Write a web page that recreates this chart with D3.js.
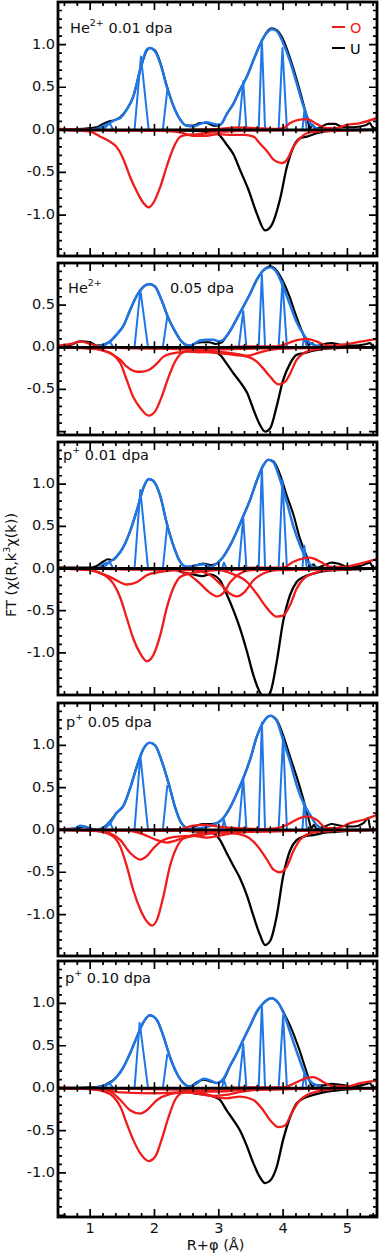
<!DOCTYPE html>
<html>
<head>
<meta charset="utf-8">
<script src="https://cdn.jsdelivr.net/npm/d3@7"></script>
<style>
  body { margin: 0; background: #fff; }
  svg { display: block; }
  text { font-family: "DejaVu Sans", sans-serif; fill: #111; }
</style>
</head>
<body>
<div id="drawing"></div>
<script>
const width = 381;
const height = 1254;
const margin = {left: 58, right: 4};

const xDomain = [0.5, 5.46];
const xLabels = [1, 2, 3, 4, 5];

// ---- panel 1 : He2+ 0.01 dpa ----
const p1Data = [[0.5,0.01],[0.8,0.01],[1.0,0.02],[1.1,0.03],[1.2,0.07],[1.3,0.1],[1.4,0.12],[1.47,0.15],[1.57,0.24],[1.67,0.39],[1.78,0.71],[1.88,0.93],[1.93,0.96],[2.01,0.93],[2.09,0.79],[2.19,0.52],[2.3,0.27],[2.4,0.12],[2.5,0.05],[2.6,0.05],[2.71,0.08],[2.81,0.08],[2.92,0.05],[3.0,0.05],[3.05,0.08],[3.12,0.18],[3.23,0.31],[3.33,0.47],[3.44,0.63],[3.54,0.82],[3.64,1.0],[3.75,1.15],[3.82,1.19],[3.9,1.17],[4.0,1.06],[4.1,0.86],[4.2,0.62],[4.3,0.35],[4.38,0.12],[4.42,0.02],[4.46,0.06],[4.5,0.01],[4.6,0.04],[4.7,0.07],[4.8,0.07],[4.9,0.04],[5.0,0.03],[5.2,0.04],[5.3,0.06],[5.35,0.08],[5.4,0.02],[5.46,0.02]];
const p1Fit = [[0.5,0],[1.0,0],[1.1,0.01],[1.2,0.04],[1.3,0.08],[1.4,0.12],[1.47,0.14],[1.57,0.24],[1.67,0.39],[1.78,0.71],[1.88,0.94],[1.93,0.96],[2.01,0.92],[2.09,0.78],[2.19,0.51],[2.3,0.27],[2.4,0.12],[2.5,0.05],[2.6,0.04],[2.71,0.07],[2.81,0.09],[2.92,0.07],[3.0,0.06],[3.05,0.08],[3.12,0.18],[3.23,0.31],[3.33,0.47],[3.44,0.63],[3.54,0.82],[3.64,1.0],[3.75,1.14],[3.82,1.18],[3.9,1.16],[4.0,1.02],[4.11,0.8],[4.21,0.55],[4.32,0.27],[4.42,0.08],[4.52,0.02],[4.63,0],[5.46,0]];
const p1U = [[0.5,0],[2.5,-0.01],[2.8,-0.02],[2.97,-0.03],[3.02,-0.07],[3.12,-0.17],[3.23,-0.29],[3.33,-0.47],[3.46,-0.7],[3.59,-0.98],[3.72,-1.18],[3.82,-1.12],[3.95,-0.82],[4.06,-0.43],[4.16,-0.2],[4.26,-0.1],[4.37,-0.08],[4.52,-0.04],[4.78,-0.01],[5.46,0]];
const p1O = [
  [[0.5,0],[0.8,-0.01],[1.0,-0.02],[1.16,-0.08],[1.31,-0.14],[1.41,-0.2],[1.52,-0.35],[1.62,-0.55],[1.73,-0.73],[1.83,-0.86],[1.91,-0.91],[1.98,-0.86],[2.09,-0.67],[2.19,-0.43],[2.3,-0.2],[2.4,-0.08],[2.5,-0.06],[2.7,-0.05],[2.9,-0.03],[3.1,-0.02],[3.5,-0.01],[5.46,0]],
  [[0.5,0],[2.0,-0.01],[2.4,-0.03],[2.6,-0.07],[2.8,-0.07],[3.0,-0.05],[3.2,-0.06],[3.4,-0.06],[3.54,-0.08],[3.64,-0.16],[3.75,-0.25],[3.85,-0.35],[3.98,-0.39],[4.06,-0.35],[4.16,-0.2],[4.26,-0.1],[4.37,-0.04],[4.52,-0.02],[5.46,0]]
];
const p1Res = [[0.5,0.01],[1.0,0],[1.5,-0.01],[2.5,0],[3.0,0.01],[3.3,0.03],[3.6,0.02],[3.9,0.01],[4.0,0.02],[4.11,0.08],[4.26,0.12],[4.37,0.125],[4.52,0.07],[4.68,0.02],[4.83,0.02],[5.0,0.06],[5.2,0.08],[5.46,0.14]];
const p1Spikes = [[1.2,1.3,0.08,1.36],[1.69,1.79,0.86,1.91],[2.13,2.2,0.47,null],[3.31,3.38,0.57,3.43],[3.62,3.67,1.06,3.72],[3.93,3.99,0.96,4.06],[4.3,4.33,0.22,4.37]];

// ---- panel 2 : He2+ 0.05 dpa ----
const p2Data = [[0.5,0],[0.7,0.03],[0.85,0.07],[1.0,0.06],[1.1,0.02],[1.2,0.03],[1.31,0.07],[1.41,0.15],[1.52,0.26],[1.62,0.44],[1.73,0.62],[1.83,0.72],[1.92,0.75],[2.01,0.72],[2.11,0.56],[2.22,0.34],[2.32,0.19],[2.42,0.07],[2.55,0.02],[2.65,0.05],[2.75,0.06],[2.85,0.06],[2.95,0.04],[3.05,0.06],[3.1,0.11],[3.18,0.2],[3.28,0.34],[3.38,0.48],[3.49,0.64],[3.59,0.8],[3.69,0.91],[3.8,0.96],[3.9,0.91],[4.0,0.78],[4.1,0.6],[4.2,0.38],[4.3,0.18],[4.4,0.03],[4.45,0.05],[4.5,0.01],[4.6,0.03],[4.75,0.05],[4.9,0.03],[5.1,0.02],[5.3,0.04],[5.35,0.05],[5.4,0.01],[5.46,0.01]];
const p2Fit = [[0.5,0],[1.0,0],[1.16,0.02],[1.31,0.07],[1.41,0.15],[1.52,0.26],[1.62,0.44],[1.73,0.62],[1.83,0.72],[1.92,0.75],[2.01,0.72],[2.11,0.56],[2.22,0.34],[2.32,0.19],[2.42,0.07],[2.55,0.02],[2.71,0.08],[2.81,0.09],[2.92,0.09],[3.0,0.07],[3.07,0.09],[3.18,0.2],[3.28,0.34],[3.38,0.48],[3.49,0.64],[3.59,0.8],[3.69,0.91],[3.8,0.95],[3.9,0.89],[4.0,0.72],[4.11,0.5],[4.21,0.3],[4.32,0.15],[4.42,0.05],[4.58,0.01],[4.7,0],[5.46,0]];
const p2U = [[0.5,0],[2.5,-0.01],[2.8,-0.03],[2.92,-0.05],[3.02,-0.09],[3.12,-0.19],[3.23,-0.31],[3.33,-0.41],[3.44,-0.54],[3.54,-0.74],[3.64,-0.92],[3.72,-1.0],[3.8,-0.96],[3.9,-0.7],[4.0,-0.39],[4.11,-0.19],[4.21,-0.09],[4.32,-0.07],[4.47,-0.04],[4.78,-0.01],[5.46,0]];
const p2O = [
  [[0.5,0],[1.0,-0.01],[1.16,-0.03],[1.36,-0.09],[1.47,-0.19],[1.57,-0.39],[1.67,-0.59],[1.78,-0.72],[1.91,-0.81],[2.01,-0.76],[2.11,-0.59],[2.22,-0.35],[2.32,-0.17],[2.42,-0.07],[2.55,-0.04],[2.8,-0.03],[3.2,-0.02],[5.46,0]],
  [[0.5,0],[1.1,-0.02],[1.31,-0.07],[1.47,-0.15],[1.57,-0.23],[1.73,-0.29],[1.8,-0.29],[1.91,-0.27],[2.04,-0.19],[2.14,-0.11],[2.3,-0.07],[2.5,-0.05],[2.7,-0.06],[2.9,-0.05],[3.1,-0.06],[3.3,-0.08],[3.45,-0.1],[3.6,-0.07],[3.8,-0.03],[4.2,-0.01],[5.46,0]],
  [[0.5,0],[2.4,-0.02],[2.7,-0.05],[3.0,-0.07],[3.23,-0.09],[3.44,-0.11],[3.59,-0.17],[3.69,-0.25],[3.8,-0.35],[3.93,-0.44],[4.03,-0.41],[4.11,-0.31],[4.21,-0.15],[4.32,-0.07],[4.47,-0.03],[4.7,-0.01],[5.46,0]]
];
const p2Res = [[0.5,0.02],[0.7,0.04],[0.85,0.07],[1.0,0.04],[1.2,0],[2.0,-0.01],[3.0,0],[3.5,0.01],[3.9,0.01],[4.05,0.04],[4.15,0.07],[4.26,0.09],[4.37,0.1],[4.52,0.07],[4.68,0.02],[4.89,0.03],[5.09,0.05],[5.3,0.08],[5.46,0.1]];
const p2Spikes = [[1.2,1.3,0.07,1.36],[1.69,1.78,0.68,1.9],[2.13,2.2,0.37,null],[3.31,3.38,0.43,3.43],[3.62,3.67,0.86,3.72],[3.93,3.99,0.78,4.06],[4.3,4.33,0.12,4.37]];

// ---- panel 3 : p+ 0.01 dpa ----
const p3Data = [[0.5,0.01],[1.0,0.01],[1.1,0.03],[1.2,0.08],[1.28,0.11],[1.35,0.1],[1.41,0.14],[1.52,0.26],[1.62,0.44],[1.73,0.7],[1.83,0.96],[1.91,1.06],[1.98,1.04],[2.09,0.86],[2.19,0.54],[2.3,0.26],[2.4,0.08],[2.5,0.02],[2.66,0.04],[2.76,0.06],[2.87,0.04],[2.97,0.06],[3.07,0.14],[3.18,0.28],[3.28,0.44],[3.38,0.62],[3.49,0.82],[3.59,1.04],[3.69,1.22],[3.77,1.29],[3.85,1.27],[3.95,1.12],[4.06,0.86],[4.16,0.64],[4.26,0.36],[4.37,0.14],[4.43,0.02],[4.47,0.05],[4.52,0.01],[4.65,0.04],[4.75,0.07],[4.85,0.06],[5.0,0.02],[5.2,0.03],[5.3,0.06],[5.35,0.07],[5.4,0.01],[5.46,0.01]];
const p3Fit = [[0.5,0],[1.1,0],[1.21,0.05],[1.31,0.08],[1.41,0.14],[1.52,0.26],[1.62,0.44],[1.73,0.7],[1.83,0.96],[1.91,1.06],[1.98,1.04],[2.09,0.86],[2.19,0.54],[2.3,0.26],[2.4,0.08],[2.5,0.02],[2.66,0.04],[2.76,0.05],[2.87,0.02],[2.97,0.06],[3.07,0.14],[3.18,0.28],[3.28,0.44],[3.38,0.62],[3.49,0.82],[3.59,1.04],[3.69,1.22],[3.77,1.29],[3.85,1.26],[3.95,1.06],[4.06,0.78],[4.16,0.5],[4.26,0.28],[4.37,0.1],[4.47,0.02],[4.63,0],[5.46,0]];
const p3U = [[0.5,0],[2.3,-0.01],[2.45,-0.05],[2.6,-0.07],[2.75,-0.09],[2.85,-0.07],[2.92,-0.08],[3.02,-0.14],[3.12,-0.3],[3.23,-0.5],[3.33,-0.71],[3.44,-0.99],[3.54,-1.27],[3.64,-1.47],[3.72,-1.53],[3.8,-1.47],[3.9,-1.11],[4.0,-0.63],[4.11,-0.31],[4.21,-0.16],[4.32,-0.1],[4.47,-0.06],[4.78,-0.02],[5.1,-0.01],[5.46,0]];
const p3O = [
  [[0.5,0],[0.9,-0.01],[1.1,-0.04],[1.26,-0.1],[1.36,-0.18],[1.47,-0.35],[1.57,-0.59],[1.67,-0.83],[1.78,-1.01],[1.88,-1.1],[1.98,-1.03],[2.09,-0.79],[2.19,-0.47],[2.3,-0.22],[2.4,-0.1],[2.55,-0.06],[2.8,-0.03],[3.2,-0.01],[5.46,0]],
  [[0.5,0],[1.0,-0.02],[1.16,-0.05],[1.36,-0.12],[1.57,-0.19],[1.73,-0.16],[1.88,-0.08],[2.09,-0.04],[2.4,-0.02],[5.46,0]],
  [[0.5,0],[2.2,-0.01],[2.5,-0.06],[2.71,-0.18],[2.85,-0.28],[2.97,-0.33],[3.07,-0.29],[3.18,-0.16],[3.33,-0.06],[3.5,-0.02],[5.46,0]],
  [[0.5,0],[2.5,-0.01],[2.82,-0.06],[3.02,-0.18],[3.16,-0.29],[3.28,-0.33],[3.4,-0.28],[3.54,-0.14],[3.69,-0.06],[3.9,-0.02],[5.46,0]],
  [[0.5,0],[2.9,-0.01],[3.23,-0.07],[3.44,-0.16],[3.59,-0.3],[3.75,-0.47],[3.9,-0.57],[4.0,-0.56],[4.11,-0.43],[4.21,-0.24],[4.32,-0.12],[4.47,-0.06],[4.68,-0.02],[5.46,0]]
];
const p3Res = [[0.5,0.01],[1.0,0],[2.0,-0.01],[3.0,0],[3.6,0.01],[4.0,0.01],[4.16,0.08],[4.32,0.12],[4.42,0.13],[4.58,0.08],[4.73,0.02],[4.94,0.02],[5.15,0.05],[5.3,0.08],[5.46,0.11]];
const p3Spikes = [[1.2,1.3,0.08,1.36],[1.69,1.78,0.93,1.9],[2.13,2.2,0.52,null],[3.05,3.08,0.07,3.12],[3.31,3.38,0.6,3.43],[3.62,3.67,1.2,3.72],[3.93,3.99,1.05,4.06],[4.3,4.33,0.27,4.37]];

// ---- panel 4 : p+ 0.05 dpa ----
const p4Data = [[0.5,0.01],[0.8,0.02],[0.9,0.04],[1.0,0.02],[1.1,0],[1.21,0.03],[1.31,0.1],[1.41,0.2],[1.52,0.29],[1.62,0.49],[1.73,0.76],[1.83,0.96],[1.93,1.03],[2.01,1.0],[2.11,0.82],[2.22,0.55],[2.32,0.27],[2.42,0.08],[2.55,0.01],[2.65,0.05],[2.75,0.07],[2.87,0.07],[2.97,0.08],[3.07,0.14],[3.18,0.27],[3.28,0.43],[3.38,0.61],[3.49,0.84],[3.59,1.1],[3.69,1.27],[3.8,1.35],[3.9,1.3],[4.0,1.12],[4.11,0.86],[4.21,0.63],[4.32,0.35],[4.4,0.12],[4.44,0.02],[4.48,0.06],[4.52,0.01],[4.65,0.04],[4.75,0.07],[4.9,0.05],[5.1,0.04],[5.25,0.08],[5.32,0.14],[5.36,0.01],[5.46,0.01]];
const p4Fit = [[0.5,0],[0.75,0.01],[0.84,0.05],[0.95,0.03],[1.05,0],[1.21,0.02],[1.31,0.08],[1.41,0.2],[1.52,0.29],[1.62,0.49],[1.73,0.76],[1.83,0.96],[1.93,1.03],[2.01,1.0],[2.11,0.82],[2.22,0.55],[2.32,0.27],[2.42,0.08],[2.55,0.01],[2.71,0.02],[2.87,0.05],[2.97,0.08],[3.07,0.14],[3.18,0.27],[3.28,0.43],[3.38,0.61],[3.49,0.84],[3.59,1.1],[3.69,1.27],[3.8,1.35],[3.9,1.29],[4.0,1.06],[4.11,0.8],[4.21,0.53],[4.32,0.31],[4.42,0.18],[4.52,0.06],[4.63,0.01],[4.75,0],[5.46,0]];
const p4U = [[0.5,0],[2.5,-0.01],[2.7,-0.02],[2.92,-0.04],[3.02,-0.12],[3.12,-0.27],[3.23,-0.43],[3.33,-0.57],[3.44,-0.78],[3.54,-1.02],[3.64,-1.24],[3.72,-1.36],[3.8,-1.31],[3.9,-1.02],[4.0,-0.55],[4.11,-0.24],[4.21,-0.12],[4.32,-0.08],[4.47,-0.06],[4.68,-0.03],[4.85,-0.02],[5.46,0]];
const p4O = [
  [[0.5,0],[1.0,-0.01],[1.16,-0.02],[1.36,-0.08],[1.47,-0.2],[1.57,-0.43],[1.67,-0.71],[1.78,-0.94],[1.88,-1.08],[1.96,-1.13],[2.04,-1.06],[2.14,-0.78],[2.24,-0.43],[2.35,-0.2],[2.45,-0.1],[2.61,-0.06],[2.9,-0.03],[3.3,-0.01],[5.46,0]],
  [[0.5,0],[1.1,-0.01],[1.31,-0.04],[1.47,-0.12],[1.62,-0.27],[1.78,-0.35],[1.88,-0.31],[1.98,-0.22],[2.14,-0.12],[2.35,-0.08],[2.6,-0.07],[2.8,-0.09],[3.0,-0.07],[3.2,-0.04],[3.6,-0.02],[5.46,0]],
  [[0.5,0],[1.6,-0.01],[1.78,-0.04],[2.04,-0.12],[2.19,-0.15],[2.35,-0.12],[2.55,-0.08],[2.81,-0.05],[3.1,-0.03],[5.46,0]],
  [[0.5,0],[2.5,-0.01],[3.0,-0.03],[3.23,-0.04],[3.44,-0.08],[3.59,-0.18],[3.75,-0.35],[3.85,-0.47],[3.95,-0.5],[4.06,-0.43],[4.16,-0.25],[4.26,-0.12],[4.42,-0.04],[4.58,-0.02],[5.46,0]]
];
const p4Res = [[0.5,0],[1.5,0],[2.4,0.01],[2.6,0.05],[2.8,0.06],[3.0,0.04],[3.3,0.02],[3.7,0.01],[3.9,0.02],[4.0,0.04],[4.11,0.08],[4.26,0.14],[4.37,0.16],[4.52,0.12],[4.68,0.02],[4.83,0.02],[5.04,0.08],[5.25,0.12],[5.46,0.18]];
const p4Spikes = [[1.2,1.3,0.1,1.36],[1.69,1.78,0.88,1.9],[2.13,2.2,0.53,null],[3.05,3.08,0.12,3.12],[3.31,3.38,0.62,3.43],[3.62,3.67,1.27,3.72],[3.93,4.0,1.1,4.06],[4.3,4.33,0.33,4.37]];

// ---- panel 5 : p+ 0.10 dpa ----
const p5Data = [[0.5,0],[1.0,0.01],[1.16,0.02],[1.31,0.07],[1.41,0.13],[1.52,0.25],[1.62,0.41],[1.73,0.61],[1.83,0.78],[1.93,0.86],[2.04,0.8],[2.14,0.61],[2.24,0.37],[2.35,0.17],[2.45,0.06],[2.55,0.02],[2.66,0.07],[2.76,0.1],[2.87,0.08],[2.97,0.06],[3.07,0.1],[3.18,0.27],[3.28,0.41],[3.38,0.57],[3.49,0.74],[3.59,0.9],[3.69,1.0],[3.82,1.06],[3.93,1.0],[4.03,0.86],[4.13,0.7],[4.24,0.48],[4.34,0.25],[4.42,0.07],[4.45,0.02],[4.5,0.04],[4.6,0.03],[4.75,0.05],[4.9,0.04],[5.1,0.02],[5.3,0.05],[5.35,0.06],[5.4,0.01],[5.46,0.01]];
const p5Fit = [[0.5,0],[1.0,0],[1.16,0.02],[1.31,0.06],[1.41,0.13],[1.52,0.25],[1.62,0.41],[1.73,0.61],[1.83,0.78],[1.93,0.86],[2.04,0.8],[2.14,0.61],[2.24,0.37],[2.35,0.17],[2.45,0.06],[2.55,0.02],[2.66,0.06],[2.76,0.11],[2.87,0.09],[2.97,0.06],[3.07,0.11],[3.18,0.27],[3.28,0.41],[3.38,0.57],[3.49,0.74],[3.59,0.9],[3.69,1.0],[3.82,1.06],[3.93,1.0],[4.03,0.84],[4.13,0.61],[4.24,0.37],[4.34,0.17],[4.45,0.06],[4.58,0.02],[4.7,0],[5.46,0]];
const p5U = [[0.5,0],[2.4,-0.01],[2.61,-0.06],[2.81,-0.08],[2.92,-0.1],[3.02,-0.14],[3.12,-0.26],[3.23,-0.38],[3.33,-0.5],[3.44,-0.69],[3.54,-0.89],[3.64,-1.05],[3.72,-1.12],[3.8,-1.09],[3.9,-0.93],[4.0,-0.61],[4.11,-0.34],[4.21,-0.18],[4.32,-0.12],[4.47,-0.08],[4.68,-0.04],[4.9,-0.02],[5.46,0]];
const p5O = [
  [[0.5,0],[1.0,-0.01],[1.21,-0.04],[1.36,-0.1],[1.47,-0.22],[1.57,-0.42],[1.67,-0.61],[1.78,-0.77],[1.91,-0.86],[2.01,-0.81],[2.11,-0.61],[2.22,-0.34],[2.32,-0.14],[2.42,-0.06],[2.55,-0.04],[3.0,-0.02],[5.46,0]],
  [[0.5,0],[1.1,-0.01],[1.31,-0.04],[1.47,-0.14],[1.62,-0.26],[1.78,-0.3],[1.88,-0.26],[2.04,-0.14],[2.24,-0.07],[2.45,-0.05],[2.7,-0.07],[2.9,-0.09],[3.1,-0.08],[3.3,-0.05],[3.6,-0.02],[5.46,0]],
  [[0.5,0],[1.2,-0.02],[1.5,-0.05],[2.0,-0.06],[2.4,-0.05],[2.7,-0.04],[3.0,-0.04],[3.4,-0.02],[5.46,0]],
  [[0.5,0],[2.6,-0.02],[2.92,-0.1],[3.12,-0.12],[3.33,-0.1],[3.54,-0.14],[3.69,-0.26],[3.8,-0.38],[3.93,-0.46],[4.03,-0.44],[4.13,-0.3],[4.24,-0.16],[4.37,-0.08],[4.52,-0.04],[4.8,-0.01],[5.46,0]]
];
const p5Res = [[0.5,0.01],[1.0,0],[2.0,0],[3.0,0],[3.5,0.01],[4.0,0.01],[4.21,0.07],[4.37,0.12],[4.47,0.13],[4.63,0.07],[4.78,0.02],[5.0,0.02],[5.2,0.06],[5.46,0.09]];
const p5Spikes = [[1.2,1.3,0.06,1.36],[1.69,1.77,0.77,1.9],[2.13,2.2,0.4,null],[3.05,3.08,0.1,3.12],[3.31,3.38,0.52,3.43],[3.62,3.67,0.98,3.72],[3.93,4.0,0.86,4.06],[4.3,4.33,0.17,4.37]];

const yDomains = [[-1.48, 1.5], [-1.04, 1.0], [-1.5, 1.5], [-1.49, 1.5], [-1.52, 1.5]];
const yLabelSets = [[-1, -0.5, 0, 0.5, 1], [-0.5, 0, 0.5], [-1, -0.5, 0, 0.5, 1], [-1, -0.5, 0, 0.5, 1], [-1, -0.5, 0, 0.5, 1]];
const ionNames = ["He", "He", "p", "p", "p"];
const ionCharges = ["2+", "2+", "+", "+", "+"];
const doses = ["0.01 dpa", "0.05 dpa", "0.01 dpa", "0.05 dpa", "0.10 dpa"];

const legendNames = ["O", "U"];

// layout (pixels) of each panel box
const boxes = [
  {top: 2, bottom: 256, labelY: 33, labelX: 70, doseX: null},
  {top: 263, bottom: 435, labelY: 293, labelX: 68, doseX: 170},
  {top: 442, bottom: 695, labelY: 460, labelX: 63, doseX: null},
  {top: 703, bottom: 956, labelY: 727, labelX: 66, doseX: null},
  {top: 961, bottom: 1217, labelY: 983, labelX: 65, doseX: null}
];

const allData = [p1Data, p2Data, p3Data, p4Data, p5Data];
const allFit = [p1Fit, p2Fit, p3Fit, p4Fit, p5Fit];
const allU = [p1U, p2U, p3U, p4U, p5U];
const allO = [p1O, p2O, p3O, p4O, p5O];
const allRes = [p1Res, p2Res, p3Res, p4Res, p5Res];
const allSpikes = [p1Spikes, p2Spikes, p3Spikes, p4Spikes, p5Spikes];

const blue = "#1f77e6";
const red = "#f01c1c";
const fontSize = 14.5;

const svg = d3.select("#drawing").append("svg")
  .attr("width", width)
  .attr("height", height);

const xScale = d3.scaleLinear().domain(xDomain).range([margin.left, width - margin.right]);
const fmt = (v) => (v < 0 ? "-" : "") + Math.abs(v).toFixed(1);

const xMinor = d3.range(0.6, 5.46, 0.2).map(v => +v.toFixed(2));

boxes.forEach((b, i) => {
  const yScale = d3.scaleLinear().domain(yDomains[i]).range([b.bottom, b.top]);
  const g = svg.append("g");

  g.append("clipPath").attr("id", "clip" + i)
    .append("rect")
    .attr("x", xScale(xDomain[0])).attr("y", b.top)
    .attr("width", xScale(xDomain[1]) - xScale(xDomain[0]))
    .attr("height", b.bottom - b.top);

  const line = d3.line()
    .x(d => xScale(d[0]))
    .y(d => yScale(d[1]))
    .curve(d3.curveMonotoneX);

  const plot = g.append("g").attr("clip-path", `url(#clip${i})`);

  // measured data (black) and U shell (black, negated)
  plot.append("path").datum(allData[i])
    .attr("d", line).attr("fill", "none").attr("stroke", "#000").attr("stroke-width", 2.1);
  plot.append("path").datum(allU[i])
    .attr("d", line).attr("fill", "none").attr("stroke", "#000").attr("stroke-width", 2.3);

  // fit (blue) with spikes
  plot.append("path").datum(allFit[i])
    .attr("d", line).attr("fill", "none").attr("stroke", blue).attr("stroke-width", 2.5);
  const spikeLine = d3.line().x(d => xScale(d[0])).y(d => yScale(d[1]));
  plot.selectAll(".spike")
    .data(allSpikes[i])
    .enter()
    .append("path")
      .attr("class", "spike")
      .attr("d", d => spikeLine(d[3] === null ? [[d[0], 0], [d[1], d[2]]] : [[d[0], 0], [d[1], d[2]], [d[3], 0]]))
      .attr("fill", "none")
      .attr("stroke", blue)
      .attr("stroke-width", 2)
      .attr("stroke-linejoin", "round");

  // zero line with ticks
  const y0 = yScale(0);
  g.append("line")
    .attr("x1", xScale(xDomain[0])).attr("x2", xScale(xDomain[1]))
    .attr("y1", y0).attr("y2", y0)
    .attr("stroke", "#000").attr("stroke-width", 2.8);
  g.selectAll(".zt")
    .data(xMinor)
    .enter()
    .append("line")
      .attr("x1", d => xScale(d)).attr("x2", d => xScale(d))
      .attr("y1", d => y0 - (Number.isInteger(d) ? 6 : 3.5))
      .attr("y2", d => y0 + (Number.isInteger(d) ? 6 : 3.5))
      .attr("stroke", "#000").attr("stroke-width", 1.6);

  // O shells and residual (red)
  plot.selectAll(".oshell")
    .data(allO[i])
    .enter()
    .append("path")
      .attr("class", "oshell")
      .attr("d", line)
      .attr("fill", "none").attr("stroke", red).attr("stroke-width", 2.3);
  plot.append("path").datum(allRes[i])
    .attr("d", line).attr("fill", "none").attr("stroke", red).attr("stroke-width", 2.3);

  // frame ticks
  const yMinor = d3.range(Math.ceil(yDomains[i][0] * 10), Math.floor(yDomains[i][1] * 10) + 1).map(v => v / 10);
  const isMajorY = v => Math.abs(v * 2 - Math.round(v * 2)) < 1e-6;
  const x0 = xScale(xDomain[0]), x1 = xScale(xDomain[1]);
  g.selectAll(".yt")
    .data(yMinor)
    .enter()
    .append("path")
      .attr("d", d => {
        const len = isMajorY(d) ? 8 : 4;
        const y = yScale(d);
        return `M${x0},${y}h${len}M${x1},${y}h${-len}`;
      })
      .attr("stroke", "#000").attr("stroke-width", 1.7);
  g.selectAll(".xt")
    .data(xMinor)
    .enter()
    .append("path")
      .attr("d", d => {
        const len = Number.isInteger(d) ? 8 : 4;
        const x = xScale(d);
        return `M${x},${b.top}v${len}M${x},${b.bottom}v${-len}`;
      })
      .attr("stroke", "#000").attr("stroke-width", 1.7);

  g.append("rect")
    .attr("x", x0).attr("y", b.top)
    .attr("width", x1 - x0).attr("height", b.bottom - b.top)
    .attr("fill", "none").attr("stroke", "#000").attr("stroke-width", 2.8);

  // y tick labels
  g.selectAll(".yl")
    .data(yLabelSets[i])
    .enter()
    .append("text")
      .attr("x", 55)
      .attr("y", d => yScale(d) + 4)
      .attr("text-anchor", "end")
      .attr("font-size", fontSize)
      .text(fmt);

  // panel label
  const t = g.append("text").attr("x", b.labelX).attr("y", b.labelY).attr("font-size", fontSize);
  t.append("tspan").text(ionNames[i]);
  t.append("tspan").attr("dy", -7).attr("font-size", 9.5).text(ionCharges[i]);
  if (b.doseX === null) {
    t.append("tspan").attr("dy", 7).text(" " + doses[i]);
  } else {
    g.append("text").attr("x", b.doseX).attr("y", b.labelY).attr("font-size", fontSize).text(doses[i]);
  }

  // x tick labels on last panel
  if (i === boxes.length - 1) {
    g.selectAll(".xl")
      .data(xLabels)
      .enter()
      .append("text")
        .attr("x", d => xScale(d))
        .attr("y", b.bottom + 16)
        .attr("text-anchor", "middle")
        .attr("font-size", fontSize)
        .text(d => d);
  }
});

// legend in first panel
const legendColors = [red, "#000"];
const legend = svg.append("g");
legendNames.forEach((n, k) => {
  const ly = 27 + k * 21;
  legend.append("line")
    .attr("x1", 332).attr("x2", 345).attr("y1", ly).attr("y2", ly)
    .attr("stroke", legendColors[k]).attr("stroke-width", 2);
  legend.append("text")
    .attr("x", 350).attr("y", ly + 5.5)
    .attr("font-size", fontSize)
    .style("fill", legendColors[k])
    .text(n);
});

// axis titles
const yTitle = svg.append("text")
  .attr("transform", "translate(16,565) rotate(-90)")
  .attr("text-anchor", "middle")
  .attr("font-size", 14.5);
yTitle.append("tspan").text("FT (χ(R,k");
yTitle.append("tspan").attr("dy", -6).attr("font-size", 9.5).text("3");
yTitle.append("tspan").attr("dy", 6).text("χ(k))");

svg.append("text")
  .attr("x", xScale(2.95))
  .attr("y", 1250)
  .attr("text-anchor", "middle")
  .attr("font-size", fontSize)
  .text("R+φ (Å)");
</script>
</body>
</html>
